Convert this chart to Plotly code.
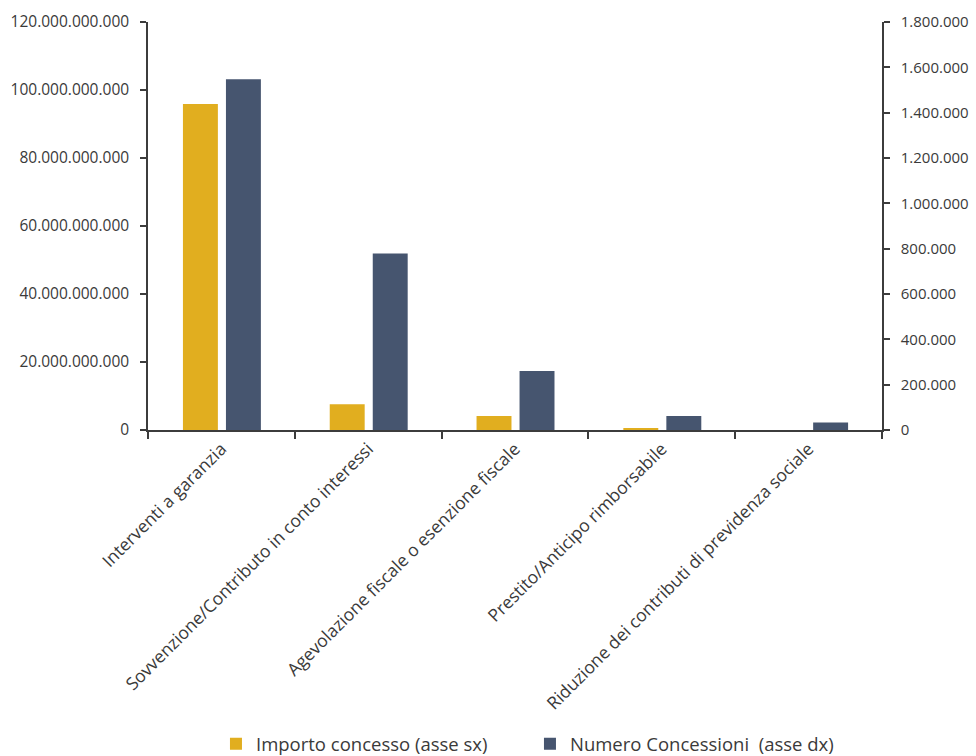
import plotly.graph_objects as go

categories = [
    "Interventi a garanzia",
    "Sovvenzione/Contributo in conto interessi",
    "Agevolazione fiscale o esenzione fiscale",
    "Prestito/Anticipo rimborsabile",
    "Riduzione dei contributi di previdenza sociale",
]
importo_concesso = [95.9e9, 7.6e9, 4.1e9, 0.45e9, 0]
numero_concessioni = [1547000, 779000, 260000, 62000, 33000]

left_ticks = [0, 20e9, 40e9, 60e9, 80e9, 100e9, 120e9]
left_labels = ["0", "20.000.000.000", "40.000.000.000", "60.000.000.000",
               "80.000.000.000", "100.000.000.000", "120.000.000.000"]
right_ticks = [0, 200000, 400000, 600000, 800000, 1000000, 1200000, 1400000, 1600000, 1800000]
right_labels = ["0", "200.000", "400.000", "600.000", "800.000", "1.000.000",
                "1.200.000", "1.400.000", "1.600.000", "1.800.000"]

YELLOW = "#E1AE1F"
BLUE = "#46556F"
TXT = "#3a3a3a"
AX = "#3c3c3c"
FONT = "Open Sans"

fig = go.Figure()
fig.add_trace(go.Bar(
    x=categories, y=importo_concesso, name="Importo concesso (asse sx)",
    marker=dict(color=YELLOW, line=dict(width=0)), yaxis="y",
    width=0.238, offset=-0.262,
))
fig.add_trace(go.Bar(
    x=categories, y=numero_concessioni, name="Numero Concessioni  (asse dx)",
    marker=dict(color=BLUE, line=dict(width=0)), yaxis="y2",
    width=0.238, offset=0.031,
))

fig.update_layout(
    width=976, height=756,
    margin=dict(l=148, r=94, t=22, b=326, autoexpand=False),
    plot_bgcolor="white", paper_bgcolor="white",
    font=dict(family=FONT, color=TXT, size=15),
    barmode="overlay",
    showlegend=True,
    legend=dict(
        orientation="h", x=0.0926, xanchor="left", y=-0.77, yanchor="middle",
        font=dict(size=18.5, family=FONT, color=TXT),
        entrywidthmode="pixels", entrywidth=269,
        itemwidth=30, bgcolor="rgba(0,0,0,0)",
    ),
    xaxis=dict(
        type="category", showgrid=False, showline=True, linecolor=AX, linewidth=1.5,
        ticks="outside", ticklen=7, tickcolor=AX, tickwidth=1.5,
        tickson="boundaries", tickangle=-45, automargin=False,
        tickfont=dict(size=17.5, family=FONT, color=TXT),
        range=[-0.5, 4.5],
    ),
    yaxis=dict(
        range=[0, 120e9], tickvals=left_ticks, ticktext=left_labels,
        showgrid=False, zeroline=False, showline=True, linecolor=AX, linewidth=1.5,
        ticks="outside", ticklen=6, tickcolor=AX, tickwidth=1.5, automargin=False,
        ticklabelstandoff=8,
        tickfont=dict(size=15.5, family=FONT, color=TXT),
    ),
    yaxis2=dict(
        range=[0, 1800000], tickvals=right_ticks, ticktext=right_labels,
        overlaying="y", side="right", automargin=False,
        showgrid=False, zeroline=False, showline=True, linecolor=AX, linewidth=1.5,
        ticks="outside", ticklen=6, tickcolor=AX, tickwidth=1.5,
        ticklabelstandoff=8,
        tickfont=dict(size=15, family=FONT, color=TXT),
    ),
)

fig.write_html(
    "out.html",
    config={"displayModeBar": False},
    post_script="document.body.style.margin='0';document.body.style.overflow='hidden';",
)
